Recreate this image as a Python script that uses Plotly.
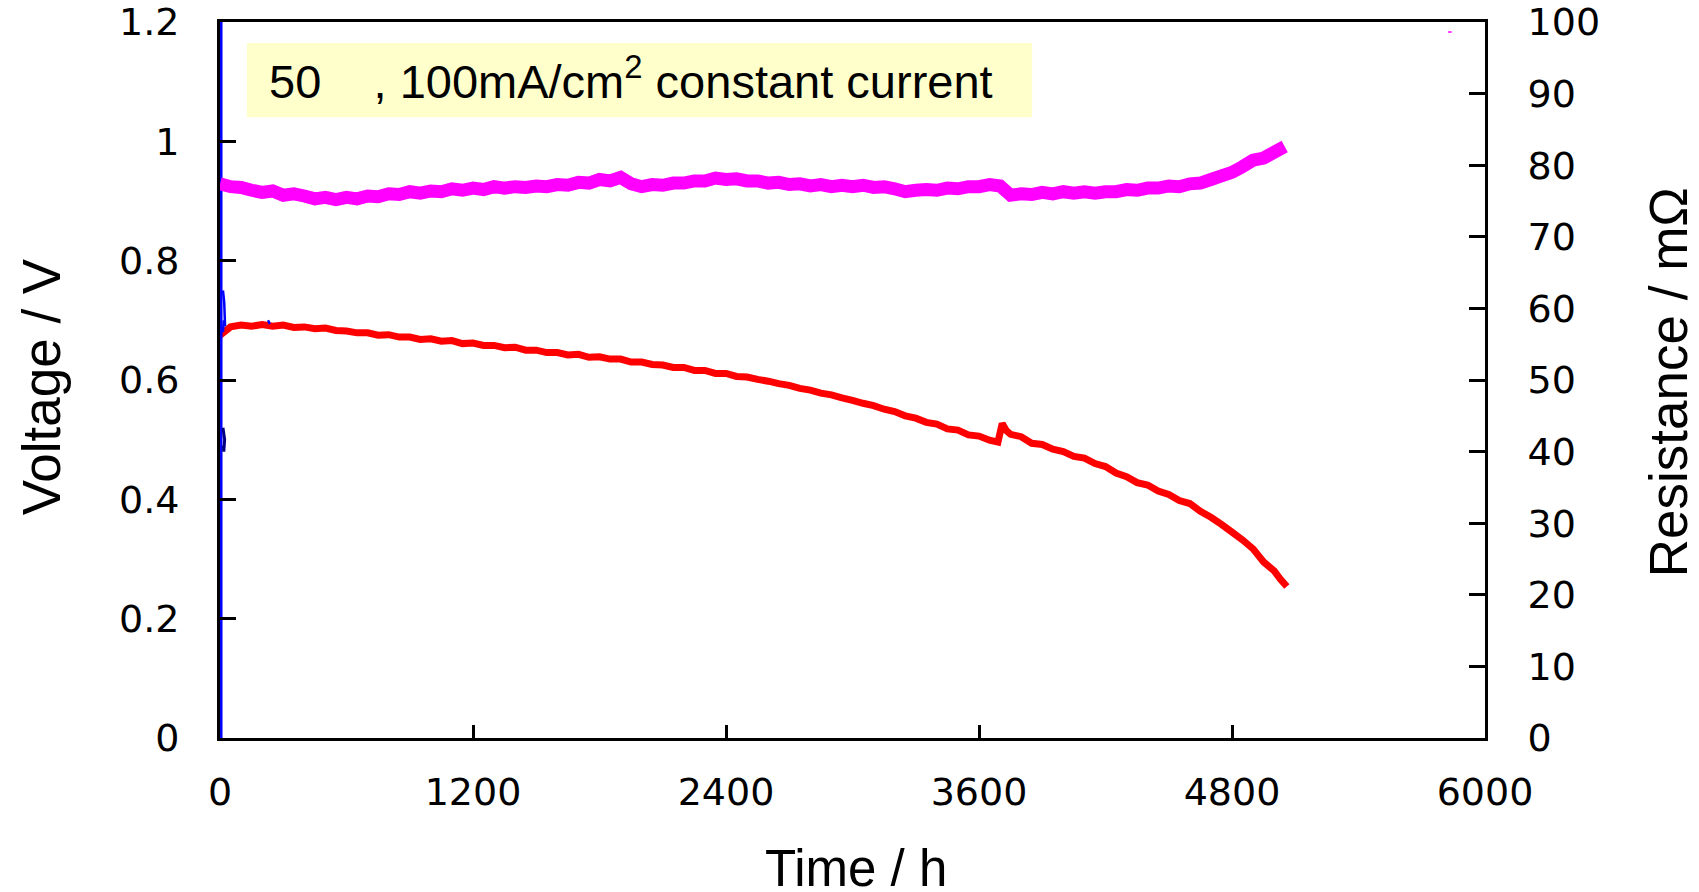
import plotly.graph_objects as go

# ---------------- data ----------------
time_v = [0, 50, 100, 150, 200, 250, 300, 350, 400, 450,
          500, 550, 600, 650, 700, 750, 800, 850, 900, 950,
          1000, 1050, 1100, 1150, 1200, 1250, 1300, 1350, 1400, 1450,
          1500, 1550, 1600, 1650, 1700, 1750, 1800, 1850, 1900, 1950,
          2000, 2050, 2100, 2150, 2200, 2250, 2300, 2350, 2400, 2450,
          2500, 2550, 2600, 2650, 2700, 2750, 2800, 2850, 2900, 2950,
          3000, 3050, 3100, 3150, 3200, 3250, 3300, 3350, 3400, 3450,
          3500, 3550, 3600, 3650, 3690, 3710, 3730,
          3750, 3800, 3850, 3900, 3950, 4000, 4050, 4100, 4150, 4200,
          4250, 4300, 4350, 4400, 4450, 4500, 4550, 4600, 4650, 4700,
          4750, 4800, 4850, 4900, 4950, 5000, 5030, 5060]
voltage = [0.675, 0.689, 0.692, 0.690, 0.693, 0.690, 0.692, 0.688, 0.689, 0.686,
           0.687, 0.683, 0.682, 0.679, 0.679, 0.675, 0.676, 0.672, 0.672, 0.668,
           0.669, 0.665, 0.666, 0.661, 0.662, 0.658, 0.658, 0.654, 0.655, 0.650,
           0.650, 0.646, 0.646, 0.642, 0.643, 0.638, 0.639, 0.635, 0.635, 0.630,
           0.630, 0.626, 0.625, 0.621, 0.621, 0.616, 0.616, 0.611, 0.611, 0.606,
           0.605, 0.601, 0.598, 0.594, 0.591, 0.586, 0.583, 0.578, 0.575, 0.570,
           0.566, 0.561, 0.557, 0.551, 0.547, 0.540, 0.536, 0.529, 0.526, 0.518,
           0.516, 0.508, 0.506, 0.499, 0.496, 0.527, 0.515,
           0.509, 0.505, 0.494, 0.492, 0.484, 0.480, 0.472, 0.469, 0.460, 0.455,
           0.444, 0.438, 0.428, 0.424, 0.414, 0.408, 0.398, 0.393, 0.380, 0.370,
           0.358, 0.345, 0.332, 0.317, 0.295, 0.280, 0.266, 0.254]

time_r = [0, 50, 100, 150, 200, 250, 300, 350, 400, 450,
          500, 550, 600, 650, 700, 750, 800, 850, 900, 950,
          1000, 1050, 1100, 1150, 1200, 1250, 1300, 1350, 1400, 1450,
          1500, 1550, 1600, 1650, 1700, 1750, 1800, 1850, 1900, 1950,
          2000, 2050, 2100, 2150, 2200, 2250, 2300, 2350, 2400, 2450,
          2500, 2550, 2600, 2650, 2700, 2750, 2800, 2850, 2900, 2950,
          3000, 3050, 3100, 3150, 3200, 3250, 3300, 3350, 3400, 3450,
          3500, 3550, 3600, 3650, 3700, 3750, 3800, 3850, 3900, 3950,
          4000, 4050, 4100, 4150, 4200, 4250, 4300, 4350, 4400, 4450,
          4500, 4550, 4600, 4650, 4700, 4750, 4800, 4850, 4900, 4950,
          5000, 5050]
resistance = [77.4, 77.0, 76.9, 76.5, 76.2, 76.4, 75.8, 76.0, 75.7, 75.3,
              75.5, 75.2, 75.5, 75.3, 75.7, 75.6, 76.0, 75.9, 76.3, 76.1,
              76.4, 76.3, 76.7, 76.5, 76.8, 76.6, 77.0, 76.8, 77.0, 76.9,
              77.1, 77.0, 77.3, 77.2, 77.6, 77.5, 78.0, 77.8, 78.3, 77.4,
              77.0, 77.3, 77.2, 77.5, 77.5, 77.8, 77.8, 78.2, 78.0, 78.1,
              77.8, 77.8, 77.5, 77.6, 77.3, 77.4, 77.1, 77.3, 77.0, 77.2,
              77.0, 77.2, 76.9, 77.0, 76.7, 76.3, 76.5, 76.6, 76.5, 76.8,
              76.7, 77.0, 77.0, 77.3, 77.1, 75.8, 76.0, 75.9, 76.2, 76.0,
              76.3, 76.1, 76.3, 76.1, 76.3, 76.3, 76.6, 76.5, 76.8, 76.8,
              77.1, 77.0, 77.4, 77.5, 78.0, 78.5, 79.0, 79.8, 80.7, 81.0,
              81.8, 82.6]

# start-up transient (blue) and early points (navy)
blue_time = [6, 6, None, 14, 20, 24, 18, 14, None, 228, 236]
blue_volt = [1.2, 0.0, None, 0.75, 0.73, 0.69, 0.70, 0.68, None, 0.700, 0.694]
navy_time = [14, 22, 18, 16]
navy_volt = [0.52, 0.50, 0.48, 0.49]

# stray resistance point near the top right
stray_time = [5825, 5842]
stray_res = [98.6, 98.6]

x_ticks = [0, 1200, 2400, 3600, 4800, 6000]
y_ticks = [0, 0.2, 0.4, 0.6, 0.8, 1.0, 1.2]
y_ticktext = ["0", "0.2", "0.4", "0.6", "0.8", "1", "1.2"]
y2_ticks = [0, 10, 20, 30, 40, 50, 60, 70, 80, 90, 100]

# ---------------- figure ----------------
fig = go.Figure()

fig.add_trace(go.Scatter(x=time_r, y=resistance, yaxis="y2", mode="lines",
                         line=dict(color="#FF00FF", width=13, simplify=False),
                         showlegend=False))
fig.add_trace(go.Scatter(x=stray_time, y=stray_res, yaxis="y2", mode="lines",
                         line=dict(color="#FF00FF", width=1.5), showlegend=False))
fig.add_trace(go.Scatter(x=time_v, y=voltage, mode="lines",
                         line=dict(color="#FF0000", width=7, simplify=False),
                         showlegend=False))
fig.add_trace(go.Scatter(x=blue_time, y=blue_volt, mode="lines",
                         line=dict(color="#0000FF", width=2.5), showlegend=False,
                         connectgaps=False))
fig.add_trace(go.Scatter(x=navy_time, y=navy_volt, mode="lines",
                         line=dict(color="#000080", width=3), showlegend=False))

tick_font = dict(family="DejaVu Sans", size=38, color="black")
txt_font = "Liberation Sans, Arial, sans-serif"

fig.update_layout(
    template="none",
    width=1699, height=892,
    margin=dict(l=220, r=214, t=22, b=154, autoexpand=False),
    paper_bgcolor="white", plot_bgcolor="white",
    xaxis=dict(range=[0, 6000], tickvals=x_ticks, ticks="inside", ticklen=13,
               tickwidth=3, tickcolor="black", showline=True, linewidth=3,
               linecolor="black", mirror=True, showgrid=False, zeroline=False,
               tickfont=tick_font, ticklabelstandoff=18, automargin=False),
    yaxis=dict(range=[0, 1.2], tickvals=y_ticks, ticktext=y_ticktext,
               ticks="inside", ticklen=16, tickwidth=3, tickcolor="black",
               showline=True, linewidth=3, linecolor="black", showgrid=False,
               zeroline=False, tickfont=tick_font, ticklabelstandoff=30,
               automargin=False),
    yaxis2=dict(range=[0, 100], tickvals=y2_ticks, overlaying="y", side="right",
                ticks="inside", ticklen=16, tickwidth=3, tickcolor="black",
                showline=True, linewidth=3, linecolor="black", showgrid=False,
                zeroline=False, tickfont=tick_font, ticklabelstandoff=32,
                automargin=False),
    shapes=[dict(type="rect", xref="paper", yref="paper",
                 x0=0.0213, x1=0.642, y0=0.867, y1=0.9707,
                 fillcolor="#FFFFCC", line=dict(width=0), layer="below")],
    annotations=[
        dict(text="50\u00a0\u00a0\u00a0\u00a0, 100mA/cm<sup>2</sup> constant current",
             xref="paper", yref="paper", x=0.0369, y=0.922,
             xanchor="left", yanchor="middle", showarrow=False,
             font=dict(family=txt_font, size=47, color="black")),
        dict(text="Time / h", xref="paper", yref="paper", x=0.503, y=-0.182,
             xanchor="center", yanchor="middle", showarrow=False, borderpad=0,
             font=dict(family=txt_font, size=51, color="black")),
        dict(text="Voltage / V", xref="paper", yref="paper", x=-0.1415, y=0.49,
             xanchor="center", yanchor="middle", showarrow=False, textangle=-90,
             font=dict(family=txt_font, size=53, color="black")),
        dict(text="Resistance / m\u03a9", xref="paper", yref="paper", x=1.145,
             y=0.4975, xanchor="center", yanchor="middle", showarrow=False,
             textangle=-90, font=dict(family=txt_font, size=53, color="black")),
    ],
)

fig.write_html("out.html")
